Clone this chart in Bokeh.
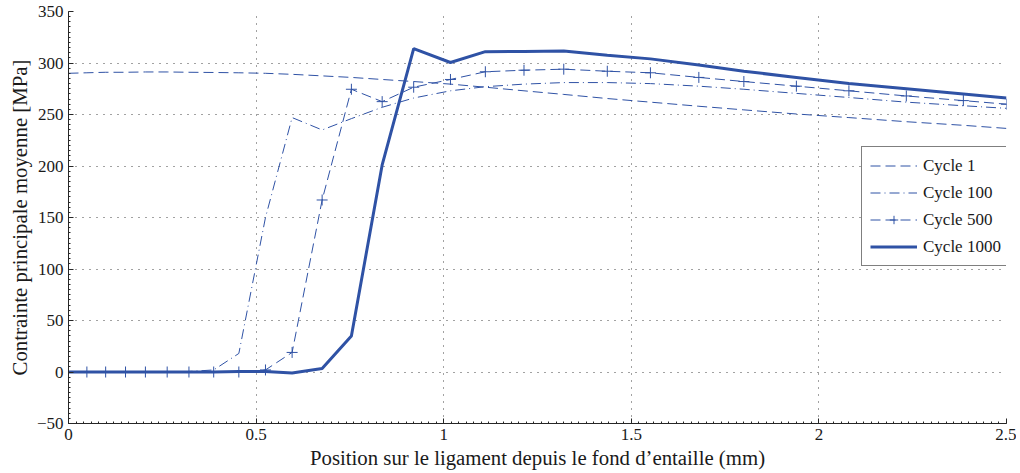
from bokeh.plotting import figure
from bokeh.models import (SingleIntervalTicker, CustomJSTickFormatter, Legend, LegendItem, Range1d)
from bokeh.embed import file_html
from bokeh.resources import INLINE

# Mesh positions along the ligament (mm)
x_pos = [0.0, 0.049, 0.099, 0.152, 0.205, 0.263, 0.321, 0.387, 0.454, 0.525,
         0.596, 0.676, 0.754, 0.836, 0.92, 1.018, 1.111, 1.214, 1.32, 1.436,
         1.551, 1.68, 1.80, 1.94, 2.08, 2.233, 2.385, 2.5]

cycle_1 = [290, 290.5, 291, 291, 291.3, 291.3, 291, 290.8, 290.5, 290,
           289, 287.5, 286, 284, 282, 279.5, 276.5, 273, 269.5, 265.5,
           262, 258, 254.5, 250.5, 247, 243, 239.5, 236.5]

cycle_100 = [0, 0, 0, 0, 0, 0, 0.5, 2, 18, 150,
             247, 235, 246, 257, 266, 273, 277, 279.5, 281, 281,
             280, 277.5, 274.5, 270.5, 266.5, 262, 258.5, 256]

cycle_500 = [0, 0, 0, 0, 0, 0, 0, 0, 0, 2,
             19, 167, 274.5, 262.5, 276.5, 284, 291.5, 293, 294, 292,
             290.5, 286, 282, 277.5, 273, 268, 263.5, 260]

cycle_1000 = [0, 0, 0, 0, 0, 0, 0, 0, 0.5, 0.5,
              -1, 3.5, 35, 201, 314, 300.5, 311, 311.2, 311.6, 307.5,
              304, 298, 292, 286, 280, 275, 270, 266]

labels = ["Cycle 1", "Cycle 100", "Cycle 500", "Cycle 1000"]

COL = "#2f52a5"
FONT = "Liberation Serif"
TXT = "#1a1a1a"

p = figure(width=1016, height=473, output_backend="svg", toolbar_location=None,
           x_range=Range1d(0, 2.5), y_range=Range1d(-50, 350),
           min_border_left=68, min_border_right=10, min_border_top=11, min_border_bottom=50)
p.outline_line_color = None
p.background_fill_color = "white"

r1 = p.line(x_pos, cycle_1, line_color=COL, line_width=1, line_dash="10 5")
r2 = p.line(x_pos, cycle_100, line_color=COL, line_width=1, line_dash="10 4 1 4")
r3 = p.line(x_pos, cycle_500, line_color=COL, line_width=1, line_dash="10 5")
r3m = p.scatter(x_pos, cycle_500, marker="cross", size=11, line_color=COL, line_width=1)
r4 = p.line(x_pos, cycle_1000, line_color=COL, line_width=3)

legend = Legend(items=[
    LegendItem(label=labels[0], renderers=[r1]),
    LegendItem(label=labels[1], renderers=[r2]),
    LegendItem(label=labels[2], renderers=[r3, r3m]),
    LegendItem(label=labels[3], renderers=[r4]),
], location=(793, 157))
legend.label_text_font = FONT
legend.label_text_font_size = "17px"
legend.label_text_color = TXT
legend.glyph_width = 47
legend.glyph_height = 21
legend.label_height = 21
legend.spacing = 6
legend.padding = 8
legend.label_standoff = 6
legend.margin = 0
legend.border_line_color = "black"
legend.border_line_width = 1
legend.background_fill_alpha = 1
p.add_layout(legend, "center")

p.xaxis.ticker = SingleIntervalTicker(interval=0.5, num_minor_ticks=25)
p.yaxis.ticker = SingleIntervalTicker(interval=50, num_minor_ticks=10)
p.xaxis.formatter = CustomJSTickFormatter(code="return tick.toString();")
p.yaxis.formatter = CustomJSTickFormatter(code="return tick < 0 ? '\u2212' + Math.abs(tick) : tick.toString();")

for ax in (p.xaxis, p.yaxis):
    ax.axis_line_color = "#262626"
    ax.axis_line_width = 1
    ax.major_tick_in = 5
    ax.major_tick_out = 0
    ax.minor_tick_in = 2
    ax.minor_tick_out = 0
    ax.major_tick_line_color = "#262626"
    ax.minor_tick_line_color = "#262626"
    ax.major_label_text_font = FONT
    ax.major_label_text_font_size = "17px"
    ax.major_label_text_color = TXT
    ax.axis_label_text_font = FONT
    ax.axis_label_text_font_size = "20.8px"
    ax.axis_label_text_font_style = "normal"
    ax.axis_label_text_color = TXT

p.xaxis.axis_label = "Position sur le ligament depuis le fond d\u2019entaille (mm)"
p.yaxis.axis_label = "Contrainte principale moyenne [MPa]"
p.xaxis.major_label_standoff = 5
p.yaxis.major_label_standoff = 5
p.xaxis.axis_label_standoff = 3
p.yaxis.axis_label_standoff = 3

p.xgrid.grid_line_color = "#444444"
p.ygrid.grid_line_color = "#444444"
p.xgrid.grid_line_dash = "1 6"
p.ygrid.grid_line_dash = "1 6"
p.xgrid.grid_line_width = 1
p.ygrid.grid_line_width = 1

open("out.html", "w").write(file_html(p, INLINE))
